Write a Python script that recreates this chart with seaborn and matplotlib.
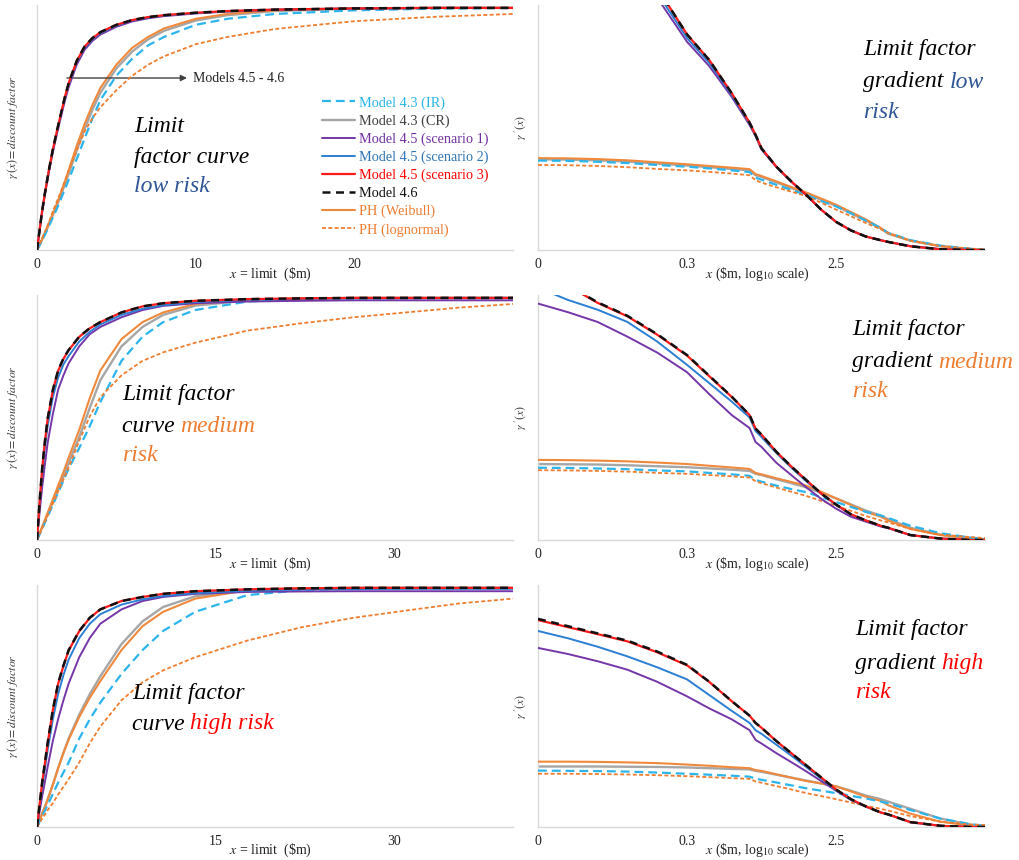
import matplotlib
matplotlib.use("Agg")
import matplotlib.pyplot as plt
from matplotlib.lines import Line2D
import seaborn as sns

sns.set_theme(style="white")
plt.rcParams["font.family"] = ["Liberation Serif", "DejaVu Serif"]
plt.rcParams["mathtext.fontset"] = "stix"

# ---- data ---------------------------------------------------------------
LABELS = ["Model 4.3 (IR)", "Model 4.3 (CR)", "Model 4.5 (scenario 1)",
          "Model 4.5 (scenario 2)", "Model 4.5 (scenario 3)", "Model 4.6",
          "PH (Weibull)", "PH (lognormal)"]

# limit ($m) where the curves were read: low risk panel, medium/high panels
XL = [0, 0.15, 0.3, 0.5, 0.75, 1, 1.25, 1.5, 1.75, 2, 2.5, 3, 3.5, 4, 5, 6, 7, 8,
      10, 12, 15, 20, 25, 30]
XM = [0, 0.22, 0.44, 0.67, 0.89, 1.33, 1.77, 2.22, 2.66, 3.55, 4.43, 5.32, 7.1,
      8.87, 10.6, 13.3, 17.7, 22.2, 26.6, 31, 35.5, 40]
# log-scale position for the gradient panels (ticks 0, 0.3, 2.5 at 0, 1, 2)
XR = [0, 0.2, 0.4, 0.6, 0.8, 1.0, 1.15, 1.3, 1.42, 1.46, 1.5, 1.6, 1.7, 1.8, 1.9,
      2.0, 2.1, 2.2, 2.3, 2.35, 2.5, 2.7, 2.9, 3.0]

# limit factor curves, low risk
LOW_IR = [0, 0.018, 0.037, 0.063, 0.098, 0.135, 0.17, 0.21, 0.25, 0.29, 0.375, 0.46, 0.545, 0.62, 0.72, 0.79, 0.845, 0.88, 0.93, 0.955, 0.975, 0.99, 0.997, 1.0]
LOW_CR = [0, 0.019, 0.04, 0.068, 0.105, 0.145, 0.183, 0.225, 0.27, 0.315, 0.41, 0.50, 0.58, 0.65, 0.75, 0.82, 0.87, 0.905, 0.948, 0.97, 0.987, 0.997, 1.0, 1.0]
LOW_S1 = [0, 0.073, 0.146, 0.23, 0.322, 0.405, 0.478, 0.548, 0.615, 0.673, 0.765, 0.827, 0.864, 0.89, 0.922, 0.944, 0.957, 0.966, 0.977, 0.985, 0.992, 0.997, 1.0, 1.0]
LOW_S2 = [0, 0.074, 0.148, 0.233, 0.327, 0.41, 0.485, 0.555, 0.625, 0.684, 0.775, 0.835, 0.871, 0.896, 0.927, 0.948, 0.96, 0.968, 0.979, 0.986, 0.993, 0.998, 1.0, 1.0]
LOW_S3 = [0, 0.075, 0.15, 0.235, 0.33, 0.415, 0.49, 0.56, 0.63, 0.69, 0.78, 0.84, 0.875, 0.90, 0.93, 0.95, 0.962, 0.97, 0.98, 0.987, 0.993, 0.998, 1.0, 1.0]
LOW_46 = [0, 0.076, 0.151, 0.236, 0.331, 0.416, 0.491, 0.561, 0.631, 0.691, 0.781, 0.841, 0.876, 0.90, 0.93, 0.95, 0.962, 0.97, 0.98, 0.987, 0.993, 0.998, 1.0, 1.0]
LOW_WB = [0, 0.02, 0.042, 0.072, 0.11, 0.15, 0.19, 0.235, 0.28, 0.33, 0.43, 0.52, 0.60, 0.67, 0.765, 0.835, 0.88, 0.915, 0.955, 0.975, 0.99, 0.998, 1.0, 1.0]
LOW_LN = [0, 0.022, 0.045, 0.075, 0.115, 0.16, 0.20, 0.24, 0.285, 0.33, 0.41, 0.49, 0.545, 0.59, 0.66, 0.72, 0.765, 0.80, 0.85, 0.88, 0.913, 0.945, 0.963, 0.975]

# limit factor curves, medium risk
MED_IR = [0, 0.024, 0.048, 0.072, 0.096, 0.145, 0.195, 0.245, 0.295, 0.38, 0.47, 0.57, 0.74, 0.84, 0.90, 0.95, 0.985, 0.995, 0.999, 1, 1, 1]
MED_CR = [0, 0.026, 0.052, 0.078, 0.105, 0.158, 0.21, 0.263, 0.318, 0.425, 0.545, 0.66, 0.80, 0.88, 0.93, 0.968, 0.99, 0.997, 1, 1, 1, 1]
MED_S1 = [0, 0.115, 0.22, 0.315, 0.40, 0.52, 0.62, 0.68, 0.73, 0.80, 0.85, 0.88, 0.92, 0.95, 0.967, 0.978, 0.985, 0.988, 0.99, 0.99, 0.99, 0.99]
MED_S2 = [0, 0.15, 0.28, 0.385, 0.47, 0.59, 0.67, 0.725, 0.76, 0.82, 0.86, 0.89, 0.93, 0.955, 0.97, 0.983, 0.992, 0.996, 0.998, 0.999, 1, 1]
MED_S3 = [0, 0.158, 0.298, 0.408, 0.498, 0.618, 0.698, 0.748, 0.784, 0.839, 0.874, 0.90, 0.94, 0.965, 0.978, 0.988, 0.995, 0.998, 1, 1, 1, 1]
MED_46 = [0, 0.16, 0.30, 0.41, 0.50, 0.62, 0.70, 0.75, 0.785, 0.84, 0.875, 0.90, 0.94, 0.965, 0.978, 0.988, 0.995, 0.998, 1, 1, 1, 1]
MED_WB = [0, 0.028, 0.056, 0.084, 0.112, 0.168, 0.224, 0.28, 0.34, 0.455, 0.585, 0.70, 0.83, 0.90, 0.94, 0.975, 0.993, 0.998, 1, 1, 1, 1]
MED_LN = [0, 0.025, 0.05, 0.075, 0.10, 0.15, 0.20, 0.25, 0.30, 0.41, 0.51, 0.59, 0.68, 0.74, 0.775, 0.815, 0.865, 0.895, 0.92, 0.94, 0.96, 0.975]

# limit factor curves, high risk
HIGH_IR = [0, 0.023, 0.046, 0.069, 0.092, 0.138, 0.185, 0.228, 0.27, 0.37, 0.45, 0.52, 0.64, 0.74, 0.82, 0.90, 0.97, 0.99, 0.997, 1, 1, 1]
HIGH_CR = [0, 0.028, 0.057, 0.085, 0.114, 0.177, 0.245, 0.31, 0.37, 0.47, 0.555, 0.63, 0.765, 0.86, 0.92, 0.965, 0.99, 0.998, 1, 1, 1, 1]
HIGH_S1 = [0, 0.065, 0.13, 0.19, 0.25, 0.36, 0.45, 0.53, 0.60, 0.71, 0.79, 0.85, 0.91, 0.945, 0.962, 0.975, 0.983, 0.985, 0.986, 0.986, 0.986, 0.986]
HIGH_S2 = [0, 0.085, 0.17, 0.245, 0.32, 0.45, 0.555, 0.635, 0.70, 0.79, 0.85, 0.89, 0.93, 0.952, 0.966, 0.978, 0.988, 0.993, 0.995, 0.996, 0.996, 0.996]
HIGH_S3 = [0, 0.094, 0.188, 0.268, 0.348, 0.488, 0.598, 0.673, 0.738, 0.819, 0.874, 0.91, 0.945, 0.962, 0.975, 0.986, 0.994, 0.998, 1, 1, 1, 1]
HIGH_46 = [0, 0.095, 0.19, 0.27, 0.35, 0.49, 0.60, 0.675, 0.74, 0.82, 0.875, 0.91, 0.945, 0.962, 0.975, 0.986, 0.994, 0.998, 1, 1, 1, 1]
HIGH_WB = [0, 0.028, 0.057, 0.085, 0.114, 0.177, 0.245, 0.31, 0.365, 0.46, 0.54, 0.61, 0.74, 0.84, 0.90, 0.955, 0.99, 0.998, 1, 1, 1, 1]
HIGH_LN = [0, 0.018, 0.035, 0.052, 0.07, 0.10, 0.135, 0.168, 0.20, 0.27, 0.35, 0.42, 0.53, 0.605, 0.655, 0.71, 0.78, 0.835, 0.875, 0.905, 0.935, 0.955]

# limit factor gradients, low risk (values above 1 run off the top)
GLOW_IR = [0.365, 0.364, 0.36, 0.355, 0.347, 0.34, 0.333, 0.325, 0.318, 0.295, 0.287, 0.266, 0.245, 0.225, 0.2, 0.178, 0.15, 0.12, 0.09, 0.07, 0.04, 0.018, 0.005, 0.0]
GLOW_CR = [0.37, 0.369, 0.366, 0.361, 0.353, 0.345, 0.338, 0.331, 0.325, 0.305, 0.298, 0.276, 0.253, 0.23, 0.205, 0.18, 0.15, 0.12, 0.088, 0.067, 0.038, 0.016, 0.004, 0.0]
GLOW_S1 = [2.2, 1.9, 1.62, 1.32, 1.03, 0.85, 0.75, 0.625, 0.51, 0.465, 0.41, 0.338, 0.278, 0.224, 0.165, 0.115, 0.08, 0.055, 0.04, 0.033, 0.016, 0.004, 0.0, 0.0]
GLOW_S2 = [2.25, 1.95, 1.66, 1.35, 1.05, 0.865, 0.763, 0.633, 0.515, 0.468, 0.413, 0.34, 0.279, 0.225, 0.165, 0.115, 0.08, 0.055, 0.04, 0.033, 0.015, 0.003, 0.0, 0.0]
GLOW_S3 = [2.3, 2.0, 1.7, 1.38, 1.07, 0.88, 0.775, 0.64, 0.52, 0.47, 0.415, 0.34, 0.28, 0.225, 0.165, 0.115, 0.08, 0.055, 0.04, 0.033, 0.015, 0.003, 0.0, 0.0]
GLOW_46 = [2.3, 2.0, 1.7, 1.38, 1.07, 0.88, 0.775, 0.64, 0.52, 0.47, 0.415, 0.34, 0.28, 0.225, 0.165, 0.115, 0.08, 0.055, 0.04, 0.033, 0.015, 0.003, 0.0, 0.0]
GLOW_WB = [0.375, 0.374, 0.371, 0.366, 0.358, 0.35, 0.343, 0.336, 0.33, 0.31, 0.302, 0.28, 0.257, 0.235, 0.21, 0.185, 0.155, 0.125, 0.09, 0.068, 0.038, 0.016, 0.004, 0.0]
GLOW_LN = [0.347, 0.346, 0.343, 0.338, 0.331, 0.325, 0.319, 0.312, 0.305, 0.285, 0.275, 0.256, 0.238, 0.22, 0.193, 0.165, 0.138, 0.11, 0.085, 0.07, 0.038, 0.016, 0.006, 0.002]

# limit factor gradients, medium risk
GMED_IR = [0.295, 0.294, 0.292, 0.289, 0.284, 0.28, 0.274, 0.268, 0.262, 0.245, 0.238, 0.222, 0.208, 0.195, 0.175, 0.155, 0.135, 0.115, 0.1, 0.09, 0.058, 0.028, 0.01, 0.004]
GMED_CR = [0.31, 0.309, 0.308, 0.305, 0.301, 0.297, 0.292, 0.287, 0.282, 0.27, 0.265, 0.248, 0.232, 0.215, 0.193, 0.17, 0.145, 0.12, 0.1, 0.085, 0.05, 0.022, 0.008, 0.003]
GMED_S1 = [0.965, 0.93, 0.89, 0.83, 0.765, 0.685, 0.595, 0.51, 0.457, 0.40, 0.38, 0.315, 0.265, 0.215, 0.168, 0.128, 0.095, 0.075, 0.055, 0.048, 0.02, 0.006, 0.0, 0.0]
GMED_S2 = [1.03, 0.98, 0.94, 0.89, 0.81, 0.715, 0.64, 0.565, 0.50, 0.445, 0.42, 0.355, 0.295, 0.24, 0.188, 0.143, 0.104, 0.08, 0.058, 0.05, 0.02, 0.006, 0.0, 0.0]
GMED_S3 = [1.165, 1.038, 0.968, 0.913, 0.838, 0.753, 0.668, 0.584, 0.51, 0.455, 0.43, 0.36, 0.30, 0.245, 0.19, 0.145, 0.105, 0.08, 0.058, 0.05, 0.02, 0.006, 0.0, 0.0]
GMED_46 = [1.17, 1.04, 0.97, 0.915, 0.84, 0.755, 0.67, 0.585, 0.51, 0.455, 0.43, 0.36, 0.30, 0.245, 0.19, 0.145, 0.105, 0.08, 0.058, 0.05, 0.02, 0.006, 0.0, 0.0]
GMED_WB = [0.327, 0.326, 0.324, 0.321, 0.316, 0.31, 0.303, 0.296, 0.29, 0.274, 0.268, 0.252, 0.237, 0.222, 0.197, 0.17, 0.143, 0.115, 0.095, 0.08, 0.045, 0.02, 0.007, 0.003]
GMED_LN = [0.285, 0.284, 0.282, 0.279, 0.274, 0.27, 0.265, 0.26, 0.255, 0.24, 0.232, 0.214, 0.197, 0.18, 0.16, 0.14, 0.119, 0.098, 0.08, 0.072, 0.045, 0.022, 0.012, 0.008]

# limit factor gradients, high risk
GHIGH_IR = [0.233, 0.232, 0.231, 0.229, 0.225, 0.22, 0.216, 0.212, 0.208, 0.2, 0.195, 0.184, 0.172, 0.16, 0.15, 0.14, 0.129, 0.118, 0.105, 0.098, 0.07, 0.035, 0.012, 0.005]
GHIGH_CR = [0.25, 0.25, 0.25, 0.249, 0.248, 0.246, 0.243, 0.24, 0.238, 0.232, 0.228, 0.216, 0.204, 0.192, 0.18, 0.168, 0.15, 0.13, 0.115, 0.105, 0.075, 0.035, 0.01, 0.004]
GHIGH_S1 = [0.74, 0.715, 0.685, 0.65, 0.60, 0.54, 0.49, 0.445, 0.40, 0.36, 0.345, 0.305, 0.268, 0.23, 0.19, 0.15, 0.112, 0.085, 0.06, 0.052, 0.02, 0.005, 0.0, 0.0]
GHIGH_S2 = [0.81, 0.78, 0.745, 0.705, 0.66, 0.61, 0.545, 0.48, 0.43, 0.40, 0.385, 0.34, 0.295, 0.248, 0.2, 0.152, 0.113, 0.084, 0.06, 0.052, 0.02, 0.005, 0.0, 0.0]
GHIGH_S3 = [0.855, 0.826, 0.797, 0.767, 0.722, 0.668, 0.599, 0.52, 0.46, 0.43, 0.41, 0.355, 0.305, 0.255, 0.205, 0.155, 0.115, 0.085, 0.06, 0.052, 0.02, 0.005, 0.0, 0.0]
GHIGH_46 = [0.86, 0.83, 0.80, 0.77, 0.725, 0.67, 0.60, 0.52, 0.46, 0.43, 0.41, 0.355, 0.305, 0.255, 0.205, 0.155, 0.115, 0.085, 0.06, 0.052, 0.02, 0.005, 0.0, 0.0]
GHIGH_WB = [0.27, 0.27, 0.269, 0.267, 0.264, 0.258, 0.253, 0.247, 0.243, 0.235, 0.232, 0.218, 0.204, 0.19, 0.18, 0.168, 0.147, 0.125, 0.108, 0.09, 0.055, 0.022, 0.006, 0.003]
GHIGH_LN = [0.22, 0.22, 0.219, 0.217, 0.214, 0.21, 0.206, 0.202, 0.199, 0.188, 0.183, 0.169, 0.155, 0.14, 0.128, 0.115, 0.101, 0.088, 0.075, 0.068, 0.045, 0.022, 0.01, 0.008]

# ---- styles ----------------------------------------------------------------
#            line colour, dash pattern, width, zorder, legend text colour
STYLES = [
    ("#2bb5ec", (4, 2.2), 1.6, 4, "#29b5e8"),
    ("#a6a6a6", None, 1.7, 2, "#404040"),
    ("#7436a8", None, 1.4, 6, "#7030a0"),
    ("#2a7fd4", None, 1.4, 7, "#2e75b6"),
    ("#ff1a1a", None, 1.6, 8, "#ff0000"),
    ("#111111", (3.2, 2.2), 1.8, 9, "#111111"),
    ("#f0893c", None, 1.5, 3, "#ed7d31"),
    ("#ef7d2e", (2.2, 1.3), 1.3, 5, "#ed7d31"),
]

BLUE_TXT, ORANGE_TXT, RED_TXT, BLACK = "#2f5597", "#ed7d31", "#ff0000", "#000000"

W, H = 1020, 860
fig = plt.figure(figsize=(W / 100, H / 100), dpi=100)


def axes_px(left, top, right, bottom):
    ax = fig.add_axes([left / W, 1 - bottom / H, (right - left) / W, (bottom - top) / H])
    ax.set_facecolor("none")
    return ax


def draw_curves(ax, xs, series):
    for ys, (col, dash, lw, z, _) in zip(series, STYLES):
        ls = "-" if dash is None else (0, dash)
        sns.lineplot(x=xs, y=ys, ax=ax, color=col, linestyle=ls, linewidth=lw,
                     zorder=z, legend=False)


def style_axes(ax):
    sns.despine(ax=ax)
    for side in ("left", "bottom"):
        ax.spines[side].set_color("#d9d9d9")
        ax.spines[side].set_linewidth(1.0)
    ax.set_yticks([])
    ax.tick_params(axis="x", length=0, pad=6, labelsize=10, labelcolor="#222222")


rows = [
    dict(top=5, bottom=250, xs=XL, xmax=30, ticks=[0, 10, 20],
         curves=[LOW_IR, LOW_CR, LOW_S1, LOW_S2, LOW_S3, LOW_46, LOW_WB, LOW_LN],
         grads=[GLOW_IR, GLOW_CR, GLOW_S1, GLOW_S2, GLOW_S3, GLOW_46, GLOW_WB, GLOW_LN]),
    dict(top=295, bottom=540, xs=XM, xmax=40, ticks=[0, 15, 30],
         curves=[MED_IR, MED_CR, MED_S1, MED_S2, MED_S3, MED_46, MED_WB, MED_LN],
         grads=[GMED_IR, GMED_CR, GMED_S1, GMED_S2, GMED_S3, GMED_46, GMED_WB, GMED_LN]),
    dict(top=585, bottom=827, xs=XM, xmax=40, ticks=[0, 15, 30],
         curves=[HIGH_IR, HIGH_CR, HIGH_S1, HIGH_S2, HIGH_S3, HIGH_46, HIGH_WB, HIGH_LN],
         grads=[GHIGH_IR, GHIGH_CR, GHIGH_S1, GHIGH_S2, GHIGH_S3, GHIGH_46, GHIGH_WB, GHIGH_LN]),
]

left_axes = []
for r in rows:
    axl = axes_px(37, r["top"], 513, r["bottom"])
    draw_curves(axl, r["xs"], r["curves"])
    axl.set_xlim(0, r["xmax"])
    axl.set_ylim(0, 1.012)
    axl.set_xticks(r["ticks"])
    style_axes(axl)
    axl.set_xlabel(r"$x$ = limit  (\$m)", fontsize=10, color="#222222")
    axl.xaxis.set_label_coords(0.49, -0.062)
    axl.set_ylabel(r"$\gamma\,(x) = discount\ factor$", fontsize=8.5, color="#333333")
    axl.yaxis.set_label_coords(-0.036, 0.5)
    left_axes.append(axl)

    axr = axes_px(538, r["top"], 985, r["bottom"])
    draw_curves(axr, XR, r["grads"])
    axr.set_xlim(0, 3.0)
    axr.set_ylim(0, 1.0)
    axr.set_xticks([0, 1, 2])
    axr.set_xticklabels(["0", "0.3", "2.5"])
    style_axes(axr)
    axr.set_xlabel(r"$x$ (\$m, log$_{10}$ scale)", fontsize=10, color="#222222")
    axr.xaxis.set_label_coords(0.49, -0.062)
    axr.set_ylabel(r"$\gamma\ '(x)$", fontsize=8.5, color="#333333")
    axr.yaxis.set_label_coords(-0.022, 0.5)

# legend and arrow note on the first panel
ax0 = left_axes[0]
handles = [Line2D([], [], color=c, lw=lw, linestyle="-" if d is None else (0, d))
           for c, d, lw, _, _ in STYLES]
ax0.legend(handles, LABELS, loc="upper left", bbox_to_anchor=(0.598, 0.628),
           frameon=False, fontsize=10.3, borderpad=0, borderaxespad=0,
           handlelength=2.3, handletextpad=0.3, labelspacing=0.33,
           labelcolor=[s[4] for s in STYLES])
ax0.annotate("", xy=(0.315, 0.702), xytext=(0.063, 0.702), xycoords="axes fraction",
             arrowprops=dict(arrowstyle="-|>", color="#404040", lw=1.0,
                             mutation_scale=9, shrinkA=0, shrinkB=0))
ax0.text(0.328, 0.702, "Models 4.5 - 4.6", transform=ax0.transAxes, va="center",
         fontsize=10, color="#222222")


# italic panel captions, pieces chained so mixed colours share a baseline
def caption(x, lines):
    for y, parts in lines:
        prev = None
        for s, col in parts:
            kw = dict(color=col, fontsize=17, style="italic", ha="left")
            if prev is None:
                prev = fig.text(x / W, 1 - (y + 2) / H, s, va="center", **kw)
            else:
                prev = ax0.annotate(s, xy=(1, 0), xycoords=prev, va="bottom",
                                    annotation_clip=False, **kw)


caption(134, [(125, [("Limit", BLACK)]), (156, [("factor curve", BLACK)]),
              (185, [("low risk", BLUE_TXT)])])
caption(863, [(48, [("Limit factor", BLACK)]),
              (80, [("gradient ", BLACK), ("low", BLUE_TXT)]),
              (110, [("risk", BLUE_TXT)])])
caption(122, [(393, [("Limit factor", BLACK)]),
              (424, [("curve ", BLACK), ("medium", ORANGE_TXT)]),
              (453, [("risk", ORANGE_TXT)])])
caption(852, [(328, [("Limit factor", BLACK)]),
              (360, [("gradient ", BLACK), ("medium", ORANGE_TXT)]),
              (389, [("risk", ORANGE_TXT)])])
caption(132, [(692, [("Limit factor", BLACK)]),
              (722, [("curve ", BLACK), ("high risk", RED_TXT)])])
caption(855, [(628, [("Limit factor", BLACK)]),
              (661, [("gradient ", BLACK), ("high", RED_TXT)]),
              (690, [("risk", RED_TXT)])])

fig.savefig("out.png", dpi=100)
